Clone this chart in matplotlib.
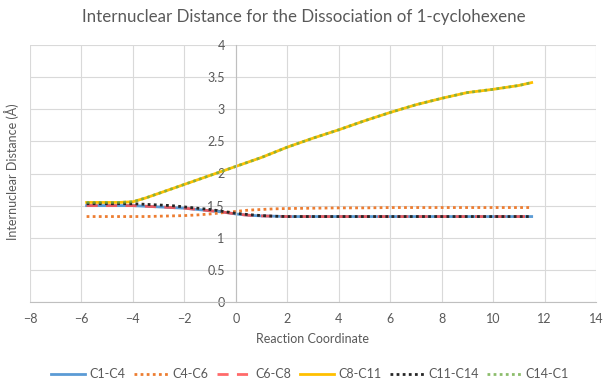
import matplotlib
matplotlib.use("Agg")
import matplotlib.pyplot as plt
import numpy as np

plt.rcParams['font.family'] = ['Lato', 'DejaVu Sans']

x = [-5.8, -5.0, -4.5, -4.0, -3.5, -3.0, -2.5, -2.0, -1.5, -1.0, -0.5, 0.0, 0.5, 1.0, 1.5, 2.0,
     3.0, 4.0, 5.0, 6.0, 7.0, 8.0, 9.0, 10.0, 11.0, 11.5]
c1_c4 = [1.50, 1.50, 1.50, 1.50, 1.49, 1.48, 1.47, 1.46, 1.44, 1.42, 1.40, 1.37, 1.35, 1.34, 1.335, 1.33,
         1.33, 1.33, 1.33, 1.33, 1.33, 1.33, 1.33, 1.33, 1.33, 1.33]
c4_c6 = [1.33, 1.33, 1.33, 1.33, 1.33, 1.335, 1.34, 1.345, 1.355, 1.37, 1.39, 1.41, 1.43, 1.44, 1.45, 1.455,
         1.46, 1.465, 1.465, 1.47, 1.47, 1.47, 1.47, 1.47, 1.47, 1.47]
c6_c8 = [1.50, 1.50, 1.50, 1.50, 1.49, 1.48, 1.47, 1.46, 1.44, 1.42, 1.40, 1.37, 1.35, 1.34, 1.335, 1.33,
         1.33, 1.33, 1.33, 1.33, 1.33, 1.33, 1.33, 1.33, 1.33, 1.33]
c8_c11 = [1.55, 1.55, 1.55, 1.56, 1.62, 1.69, 1.76, 1.83, 1.90, 1.97, 2.04, 2.11, 2.18, 2.25, 2.33, 2.41,
          2.55, 2.68, 2.82, 2.95, 3.07, 3.17, 3.26, 3.31, 3.37, 3.415]
c11_c14 = [1.53, 1.53, 1.53, 1.53, 1.52, 1.51, 1.50, 1.48, 1.46, 1.44, 1.41, 1.38, 1.36, 1.345, 1.335, 1.33,
           1.33, 1.33, 1.33, 1.33, 1.33, 1.33, 1.33, 1.33, 1.33, 1.33]
c14_c1 = list(c8_c11)

labels = ["C1-C4", "C4-C6", "C6-C8", "C8-C11", "C11-C14", "C14-C1"]
xticks = list(range(-8, 15, 2))
yticks = [0, 0.5, 1, 1.5, 2, 2.5, 3, 3.5, 4]
yticklabels = ["0", "0.5", "1", "1.5", "2", "2.5", "3", "3.5", "4"]

fig = plt.figure(figsize=(6.08, 3.84), dpi=100)
ax = fig.add_axes([30/608, 1-302/384, (596-30)/608, (302-45)/384])

ax.plot(x, c1_c4, color="#5B9BD5", lw=2.0, ls="-", label=labels[0])
ax.plot(x, c4_c6, color="#ED7D31", lw=2.0, ls=(0, (1, 1.2)), label=labels[1])
ax.plot(x, c6_c8, color="#FF5050", lw=2.0, ls=(0, (4, 3)), label=labels[2], alpha=0.85)
ax.plot(x, c8_c11, color="#FFC000", lw=2.0, ls="-", label=labels[3])
ax.plot(x, c11_c14, color="#262626", lw=2.0, ls=(0, (1, 1.2)), label=labels[4])
ax.plot(x, c14_c1, color="#70AD47", lw=2.0, ls=(0, (1, 1.2)), label=labels[5], alpha=0.8)

ax.set_xlim(-8, 14)
ax.set_ylim(0, 4)
ax.set_xticks(xticks)
ax.set_yticks(yticks)
ax.set_yticklabels(yticklabels)
ax.grid(True, color="#D9D9D9", lw=0.8)
ax.set_axisbelow(True)
for k in ("top", "right"):
    ax.spines[k].set_visible(False)
ax.spines["left"].set_position(("data", 0))
ax.spines["left"].set_color("#BFBFBF")
ax.spines["bottom"].set_color("#BFBFBF")
ax.tick_params(length=0, labelsize=9, colors="#595959")
ax.tick_params(axis="y", pad=8)
ax.tick_params(axis="x", pad=8)
ax.set_xlabel("Reaction Coordinate", fontsize=9, color="#595959", labelpad=6)
fig.text(12/608, 1-172/384, "Internuclear Distance (Å)", rotation=90, fontsize=9,
         color="#595959", ha="center", va="center")

fig.text(0.5, 1-17/384, "Internuclear Distance for the Dissociation of 1-cyclohexene",
         fontsize=12.2, color="#595959", ha="center", va="center")
leg = fig.legend(loc="center", ncol=6, frameon=False, fontsize=9,
                 bbox_to_anchor=(0.51, 1-374/384), handlelength=2.7, columnspacing=0.7,
                 handletextpad=0.35)
for t in leg.get_texts():
    t.set_color("#595959")

fig.savefig("out.png", dpi=100)
